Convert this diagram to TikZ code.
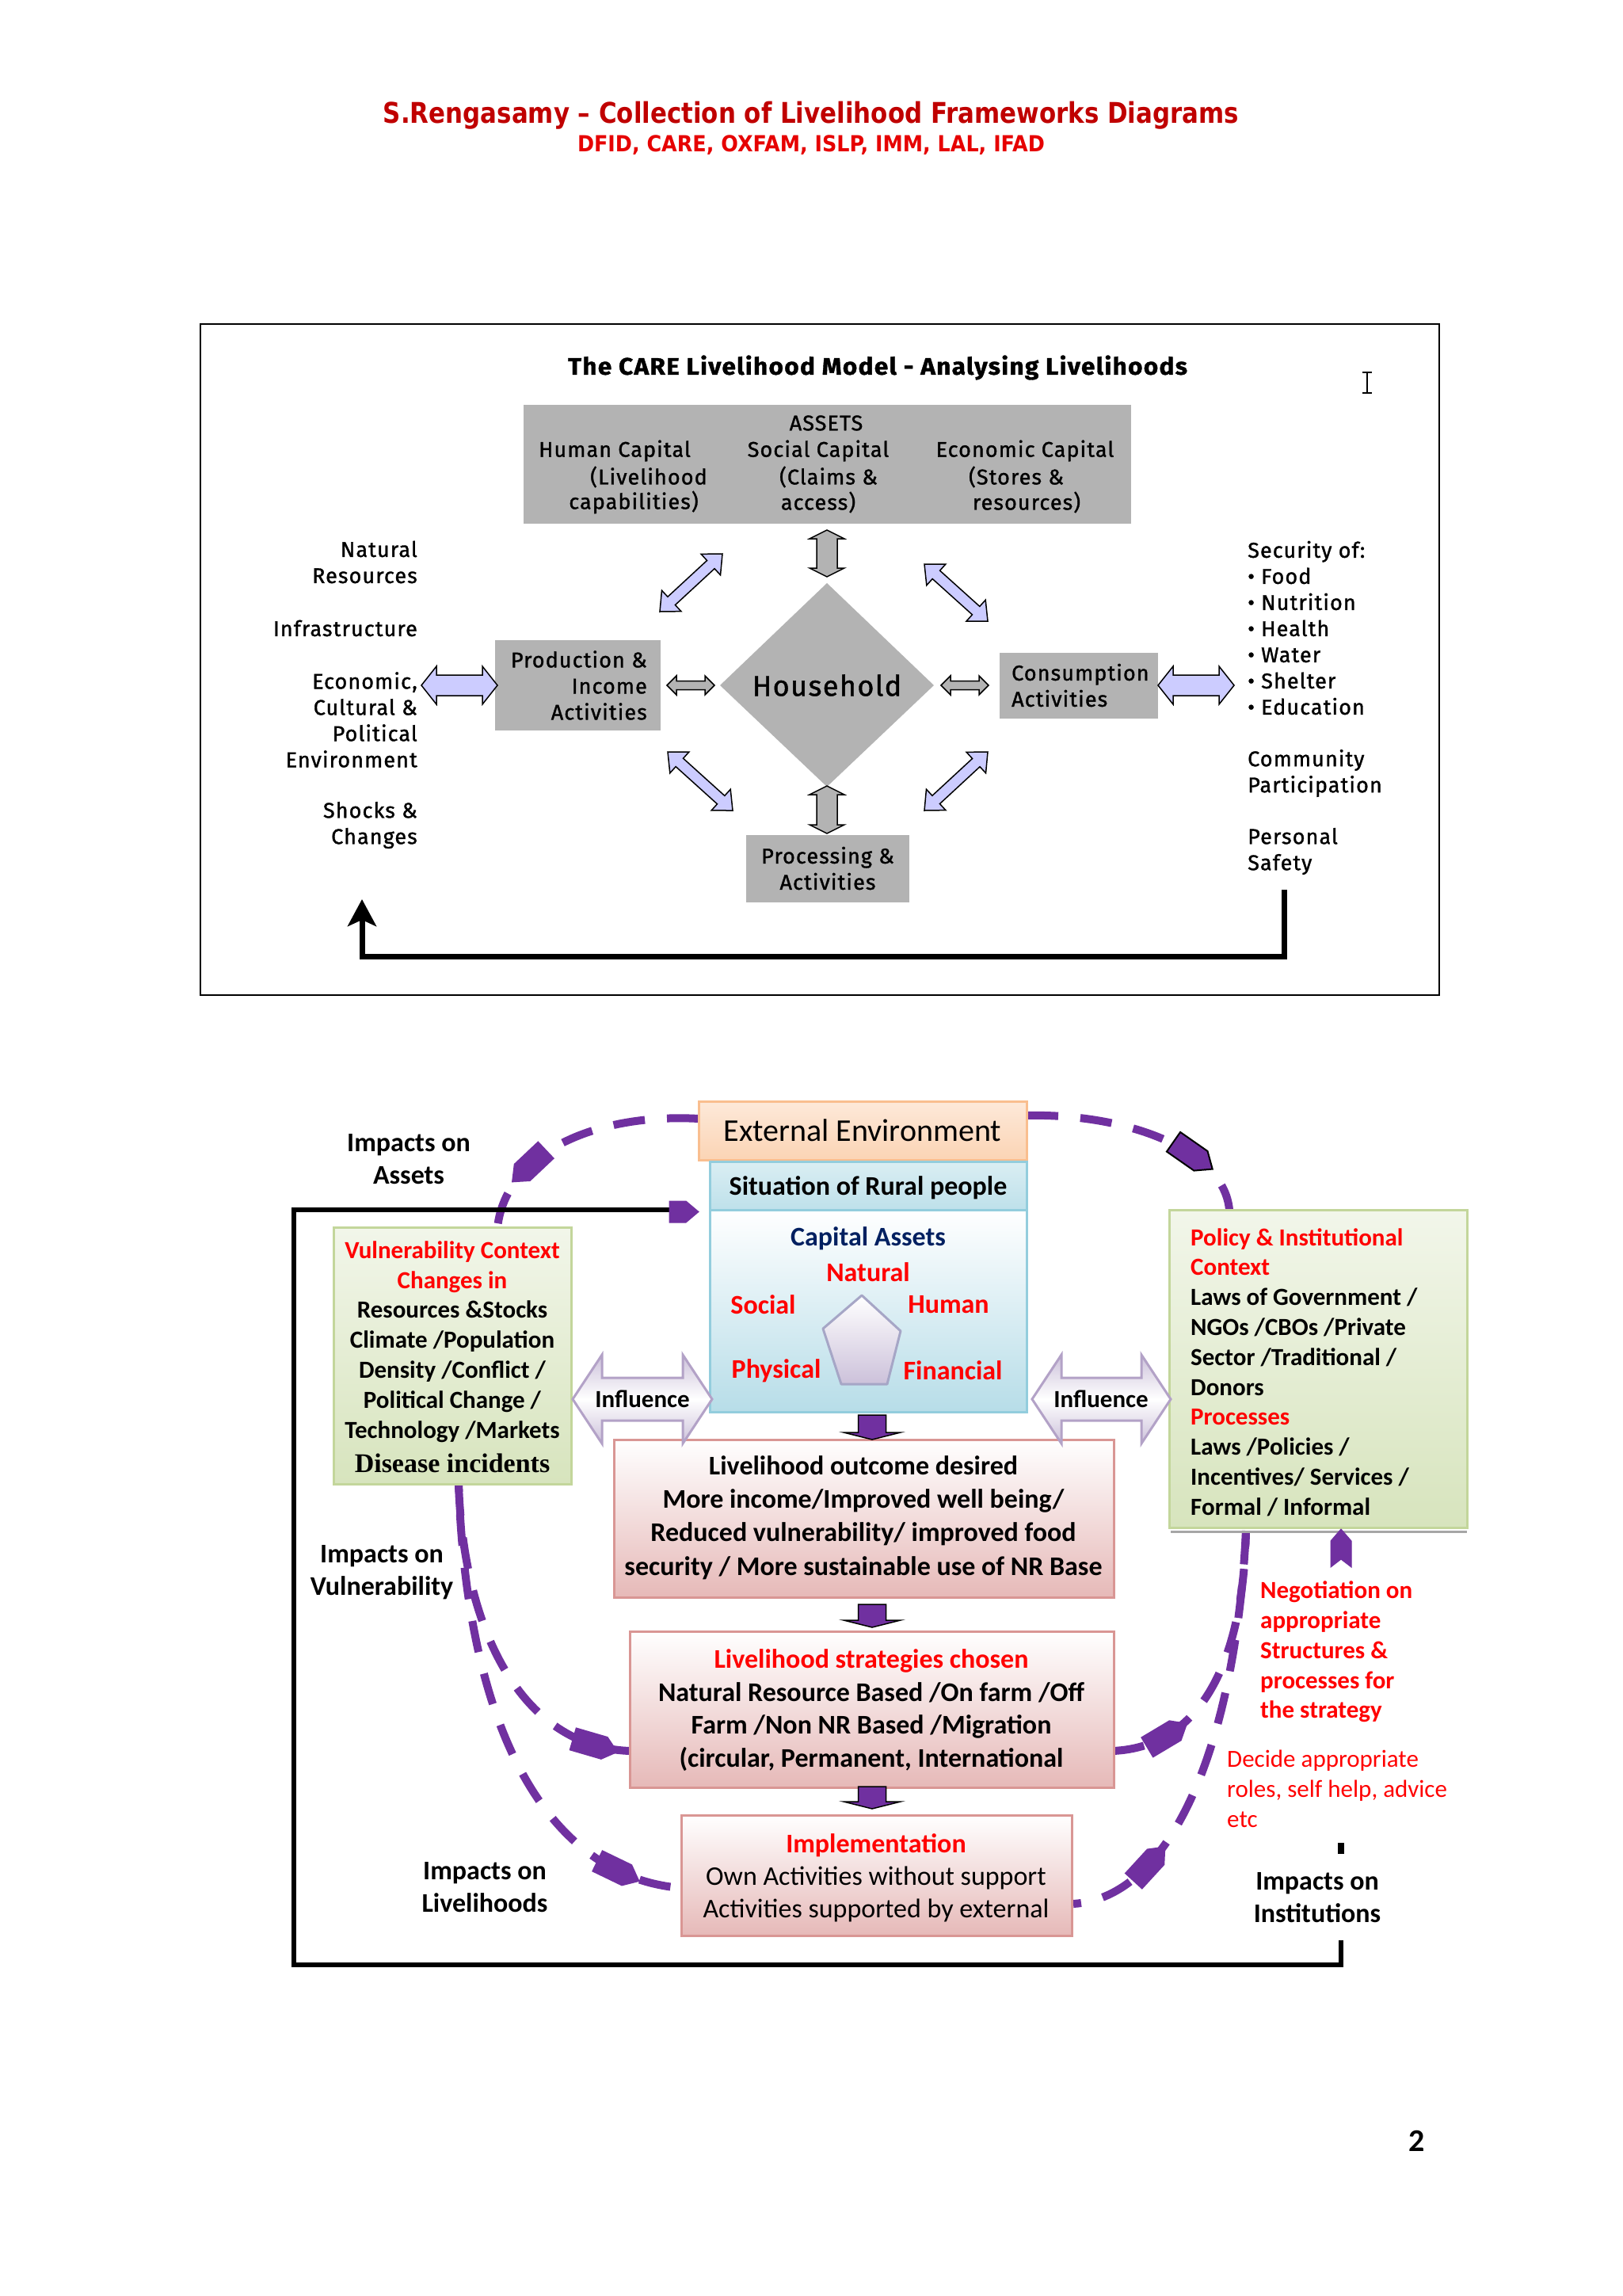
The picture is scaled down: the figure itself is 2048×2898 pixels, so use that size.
\documentclass[tikz,border=0pt]{standalone}
\usepackage{fontspec}
\usepackage{graphicx}
\setmainfont{Carlito}
\newfontfamily\titlefont{DejaVu Sans}
\newfontfamily\carefont{Fira Sans}[LetterSpace=4,FakeBold=1.2]
\newfontfamily\timesfont{Liberation Serif}
\usetikzlibrary{calc,decorations.markings,arrows.meta}
\definecolor{cgray}{HTML}{B3B3B3}
\definecolor{cblue}{HTML}{CCCCFF}
\definecolor{tred}{HTML}{C00000}
\definecolor{tredb}{HTML}{E60000}
\definecolor{pur}{HTML}{7030A0}
\definecolor{navy}{HTML}{002060}
\definecolor{bred}{HTML}{FF0000}
\definecolor{pinkB}{HTML}{E6B9B8}
\definecolor{pinkD}{HTML}{D99694}
\definecolor{blueB}{HTML}{B7DDE8}
\definecolor{blueT}{HTML}{DAEEF3}
\definecolor{blueD}{HTML}{93CDDD}
\definecolor{greenB}{HTML}{D7E4BD}
\definecolor{greenT}{HTML}{F2F6EA}
\definecolor{greenD}{HTML}{C3D69B}
\definecolor{peachB}{HTML}{FBD4B4}
\definecolor{peachT}{HTML}{FDE9D9}
\definecolor{peachD}{HTML}{F9BE8F}
\definecolor{lavB}{HTML}{CCC1DA}
\definecolor{lavD}{HTML}{B3A2C7}
\definecolor{pentD}{HTML}{A6A6C6}
\newcommand\fitw[2]{\resizebox{#1}{\height}{#2}}
% double block arrow: #1 style, #2 tip A, #3 tip B, #4 half head width, #5 half shaft width, #6 head length
\newcommand\dblarr[6]{%
 \path (#2) coordinate (da1) (#3) coordinate (da2);
 \path ($(da1)!#6!(da2)$) coordinate (dh1) ($(da2)!#6!(da1)$) coordinate (dh2);
 \draw[#1] (da1) -- ($(dh1)!#4!90:(da2)$) -- ($(dh1)!#5!90:(da2)$) -- ($(dh2)!#5!-90:(da1)$) -- ($(dh2)!#4!-90:(da1)$) -- (da2) -- ($(dh2)!#4!90:(da1)$) -- ($(dh2)!#5!90:(da1)$) -- ($(dh1)!#5!-90:(da2)$) -- ($(dh1)!#4!-90:(da2)$) -- cycle;}
% purple down block arrow: #1 x, #2 top, #3 tip, #4 head start
\newcommand\purdown[4]{%
 \draw[fill=pur, draw=black, line width=1.5pt] ({#1-17.5},#2) -- ({#1+17.5},#2) -- ({#1+17.5},#4) -- ({#1+36},#4) -- (#1,#3) -- ({#1-36},#4) -- ({#1-17.5},#4) -- cycle;}
\begin{document}
\begin{tikzpicture}[x=1pt,y=-1pt,
 care/.style={font=\carefont\fontsize{27}{33}\selectfont, inner sep=0pt},
 graybox/.style={fill=cgray, inner sep=0pt, draw=none},
 bt/.style={font=\bfseries\fontsize{31}{37.8}\selectfont, inner sep=0pt},
 btl/.style={font=\bfseries\fontsize{34}{41}\selectfont, inner sep=0pt},
 pinkbox/.style={draw=pinkD, line width=3pt, top color=white, bottom color=pinkB, inner sep=0pt},
 greenbox/.style={draw=greenD, line width=3pt, top color=greenT, bottom color=greenB, inner sep=0pt},
 pdash/.style={draw=pur, line width=10pt, dash pattern=on 40pt off 28pt},
 phead/.style={postaction={decorate,decoration={markings,mark=at position #1 with {\fill[pur,solid] (-30pt,-15pt) -- (12pt,-15pt) -- (30pt,0pt) -- (12pt,15pt) -- (-30pt,15pt) -- cycle;}}}},
 pheadb/.style={postaction={decorate,decoration={markings,mark=at position #1 with {\filldraw[fill=pur,draw=black,line width=2pt,solid] (-30pt,-15pt) -- (12pt,-15pt) -- (30pt,0pt) -- (12pt,15pt) -- (-30pt,15pt) -- cycle;}}}},
 bluearr/.style={fill=cblue, draw=black, line width=1.5pt},
 grayarr/.style={fill=cgray, draw=black, line width=1.5pt},
 infl/.style={top color=lavB, bottom color=lavB, middle color=white, draw=lavD, line width=3pt}
]
\useasboundingbox (0,0) rectangle (2048,2898);
\fill[white] (0,0) rectangle (2048,2898);

% ---------------- Title ----------------
\node[font=\titlefont\bfseries\fontsize{36}{40}\selectfont, text=tred, inner sep=0pt] (t1) at (1024,146) {\fitw{1080pt}{S.Rengasamy – Collection of Livelihood Frameworks Diagrams}};
\node[font=\titlefont\bfseries\fontsize{28}{32}\selectfont, text=tredb, inner sep=0pt] (t2) at (1024,183) {\fitw{590pt}{DFID, CARE, OXFAM, ISLP, IMM, LAL, IFAD}};

% ---------------- CARE model ----------------
\node[draw=black, line width=2.5pt, minimum width=1564pt, minimum height=847pt, inner sep=0pt] (carebox) at (1035,832.5) {};
\node[font=\carefont\bfseries\fontsize{30}{36}\selectfont, inner sep=0pt] (caret) at (1108,464) {\fitw{782pt}{The CARE Livelihood Model - Analysing Livelihoods}};
% I-beam cursor
\draw[line width=2pt] (1726,470) -- (1726,496) (1720,470) -- (1732,470) (1720,496) -- (1732,496);

\node[graybox, minimum width=767pt, minimum height=150pt] (assets) at (1044.5,586) {};
\node[care] (as0) at (1043,534) {ASSETS};
\node[care] (as1) at (776,569) {Human Capital};
\node[care] (as2) at (819,602) {(Livelihood};
\node[care] (as3) at (800,634) {capabilities)};
\node[care] (as4) at (1033,569) {Social Capital};
\node[care] (as5) at (1046,602) {(Claims \&};
\node[care] (as6) at (1033,634) {access)};
\node[care] (as7) at (1294,569) {Economic Capital};
\node[care] (as8) at (1283,602) {(Stores \&};
\node[care] (as9) at (1296,634) {resources)};

\fill[cgray] (1044,736) -- (1179,865) -- (1044,993) -- (909,865) -- cycle;
\node[care, font=\carefont\fontsize{36}{40}\selectfont] (hh) at (1044,865) {Household};

\node[graybox, minimum width=209pt, minimum height=114pt] (prod) at (729.5,865) {};
\node[care, align=right, anchor=east] (prodt) at (817,865) {Production \&\\Income\\Activities};
\node[graybox, minimum width=200pt, minimum height=83pt] (cons) at (1362,865.5) {};
\node[care, align=left, anchor=west] (const) at (1277,865) {Consumption\\Activities};
\node[graybox, minimum width=206pt, minimum height=85pt] (proc) at (1045,1096.5) {};
\node[care, align=center] (proct) at (1045,1096) {Processing \&\\Activities};

% arrows in CARE model
\dblarr{grayarr}{1044,669}{1044,728}{22pt}{13pt}{11pt}
\dblarr{grayarr}{1044,992}{1044,1052}{22pt}{13pt}{11pt}
\dblarr{grayarr}{842,865}{902,865}{12pt}{5.5pt}{12pt}
\dblarr{grayarr}{1188,865}{1248,865}{12pt}{5.5pt}{12pt}
\dblarr{bluearr}{833,772}{912,699}{18pt}{7pt}{20pt}
\dblarr{bluearr}{1167,712}{1247,784}{18pt}{7pt}{20pt}
\dblarr{bluearr}{843,949}{925,1023}{18pt}{7pt}{20pt}
\dblarr{bluearr}{1167,1023}{1247,949}{18pt}{7pt}{20pt}
\dblarr{bluearr}{532,865}{628,865}{24pt}{13pt}{19pt}
\dblarr{bluearr}{1462,865}{1558,865}{24pt}{13pt}{19pt}

% left labels
\node[care, align=right, anchor=east] (l1) at (527,709.5) {Natural\\Resources};
\node[care, align=right, anchor=east] (l2) at (527,793) {Infrastructure};
\node[care, align=right, anchor=east] (l3) at (527,908.5) {Economic,\\Cultural \&\\Political\\Environment};
\node[care, align=right, anchor=east] (l4) at (527,1041.5) {Shocks \&\\Changes};
% right labels
\node[care, align=left, anchor=west] (r1) at (1575,792.5) {Security of:\\• Food\\• Nutrition\\• Health\\• Water\\• Shelter\\• Education};
\node[care, align=left, anchor=west] (r2) at (1575,976) {Community\\Participation};
\node[care, align=left, anchor=west] (r3) at (1575,1074.5) {Personal\\Safety};
\coordinate (fbstart) at (1621,1123);
\coordinate (fbend) at (457,1135);
\draw[line width=7pt, -{Stealth[length=34pt,width=36pt,inset=8pt]}] (fbstart) |- (457,1207) -- (fbend);

% ---------------- Lower framework ----------------
% dashed purple curves (drawn first)
\coordinate (tlS) at (882,1412);
\coordinate (tlE) at (628,1549);
\draw[pdash, phead=0.72] (tlS) .. controls (760,1405) and (640,1450) .. (tlE);
\coordinate (trS) at (1296,1408);
\coordinate (trE) at (1552,1527);
\draw[pdash, pheadb=0.72] (trS) .. controls (1420,1405) and (1545,1450) .. (trE);
\coordinate (vb) at (579,1873);
\coordinate (stL) at (795,2210);
\coordinate (imL) at (860,2383);
\draw[pdash, phead=0.9] (vb) .. controls (585,2060) and (660,2205) .. (stL);
\draw[pdash, dash phase=30pt, phead=0.87] (vb) .. controls (590,2200) and (700,2370) .. (imL);
\coordinate (pb) at (1573,1932);
\coordinate (stR) at (1405,2210);
\coordinate (imR) at (1355,2403);
\draw[pdash, phead=0.2] (stR) .. controls (1520,2205) and (1570,2090) .. (pb);
\draw[pdash, dash phase=30pt, phead=0.2] (imR) .. controls (1480,2395) and (1560,2200) .. (pb);

% boxes
\node[draw=peachD, line width=3pt, top color=peachT, bottom color=peachB, minimum width=414pt, minimum height=74pt, inner sep=0pt, font=\fontsize{40}{48}\selectfont] (ext) at (1089,1427) {External Environment};
\node[draw=blueD, line width=3pt, top color=white, bottom color=blueB, minimum width=400pt, minimum height=255pt, inner sep=0pt] (cap) at (1096,1654.5) {};
\node[draw=blueD, line width=3pt, top color=blueT, bottom color=blueB!90!white, minimum width=400pt, minimum height=61pt, inner sep=0pt] (sit) at (1096,1496.5) {};
\begin{scope}
\clip (896,1466) rectangle (1296,1514);
\node[btl] (sitt) at (1096,1499) {Situation of Rural people};
\end{scope}
\node[btl, text=navy] (capa) at (1096,1563) {Capital Assets};
\node[btl, text=bred] (nat) at (1096,1606) {Natural};
\node[btl, text=bred] (soc) at (963.5,1647) {Social};
\node[btl, text=bred] (hum) at (1197.5,1647) {Human};
\node[btl, text=bred] (phy) at (980,1730) {Physical};
\node[btl, text=bred] (fin) at (1203,1730) {Financial};
\draw[top color=white, bottom color=lavB, draw=pentD, line width=3pt, line join=round] (1088,1635) -- (1137,1680) -- (1120,1747) -- (1062,1747) -- (1039,1677) -- cycle;

\node[greenbox, minimum width=300pt, minimum height=324pt] (vul) at (571,1711) {};
\node[bt, align=center] (vult) at (571,1693.5) {\textcolor{bred}{Vulnerability Context}\\\textcolor{bred}{Changes in}\\Resources \&Stocks\\Climate /Population\\Density /Conflict /\\Political Change /\\Technology /Markets};
\node[font=\timesfont\bfseries\fontsize{34}{40}\selectfont, inner sep=0pt] (dis) at (571,1847) {Disease incidents};

\draw[gray!70, line width=3pt] (1478,1933) -- (1852,1933);
\node[greenbox, minimum width=376pt, minimum height=401pt] (pol) at (1664,1727.5) {};
\node[bt, align=left, anchor=west] (polt) at (1503,1732) {\textcolor{bred}{Policy \& Institutional}\\\textcolor{bred}{Context}\\Laws of Government /\\NGOs /CBOs /Private\\Sector /Traditional /\\Donors\\\textcolor{bred}{Processes}\\Laws /Policies /\\Incentives/ Services /\\Formal / Informal};

\node[pinkbox, minimum width=631pt, minimum height=199pt] (out) at (1090.5,1916.5) {};
\node[btl, align=center, font=\bfseries\fontsize{34}{42.3}\selectfont] (outt) at (1090,1915.5) {Livelihood outcome desired\\More income/Improved well being/\\Reduced vulnerability/ improved food\\security / More sustainable use of NR Base};
\node[pinkbox, minimum width=611pt, minimum height=197pt] (strat) at (1100.5,2157.5) {};
\node[btl, align=center, font=\bfseries\fontsize{34}{41.7}\selectfont] (stratt) at (1100,2158.5) {\textcolor{bred}{Livelihood strategies chosen}\\Natural Resource Based /On farm /Off\\Farm /Non NR Based /Migration\\(circular, Permanent, International};
\node[pinkbox, minimum width=493pt, minimum height=152pt] (impl) at (1106.5,2367) {};
\node[align=center, inner sep=0pt, font=\fontsize{34}{41}\selectfont] (implt) at (1106,2370) {\textcolor{bred}{\bfseries Implementation}\\Own Activities without support\\Activities supported by external};

\purdown{1101}{1786}{1817}{1808}
\purdown{1101}{2025}{2054}{2045}
\purdown{1101}{2255}{2283}{2274}

% influence arrows
\dblarr{infl}{723,1766}{899,1766}{56pt}{27pt}{37pt}
\dblarr{infl}{1303,1766}{1478,1766}{56pt}{27pt}{37pt}
\node[bt] (inf1) at (811,1766) {Influence};
\node[bt] (inf2) at (1390,1766) {Influence};

% black frame
\draw[line width=6pt, line join=miter] (848,1527) -- (371,1527) -- (371,2480) -- (1693,2480) -- (1693,2449);
\draw[fill=pur, draw=pur, line width=1pt] (845,1516) -- (866,1516) -- (882,1529.5) -- (866,1543) -- (845,1543) -- cycle;
\fill[black] (1689,2326) rectangle (1697,2340);
% up arrow under policy box
\draw[fill=pur, draw=pur, line width=1pt] (1693,1930) -- (1706,1945) -- (1706,1978) -- (1693,1968) -- (1680,1978) -- (1680,1945) -- cycle;

% labels
\node[btl, align=center] (ia) at (516,1463.5) {Impacts on\\Assets};
\node[btl, align=center] (iv) at (482,1985) {Impacts on\\Vulnerability};
\node[btl, align=center] (il) at (612,2382.5) {Impacts on\\Livelihoods};
\node[btl, align=center] (ii) at (1663,2395.5) {Impacts on\\Institutions};
\node[bt, align=left, anchor=west, text=bred] (neg) at (1591,2085) {Negotiation on\\appropriate\\Structures \&\\processes for\\the strategy};
\node[align=left, anchor=west, text=bred, inner sep=0pt, font=\fontsize{31}{38}\selectfont] (dec) at (1549,2258) {Decide appropriate\\roles, self help, advice\\etc};

\node[font=\bfseries\fontsize{40}{48}\selectfont, inner sep=0pt] (pg) at (1789,2702) {2};
\end{tikzpicture}
\end{document}
